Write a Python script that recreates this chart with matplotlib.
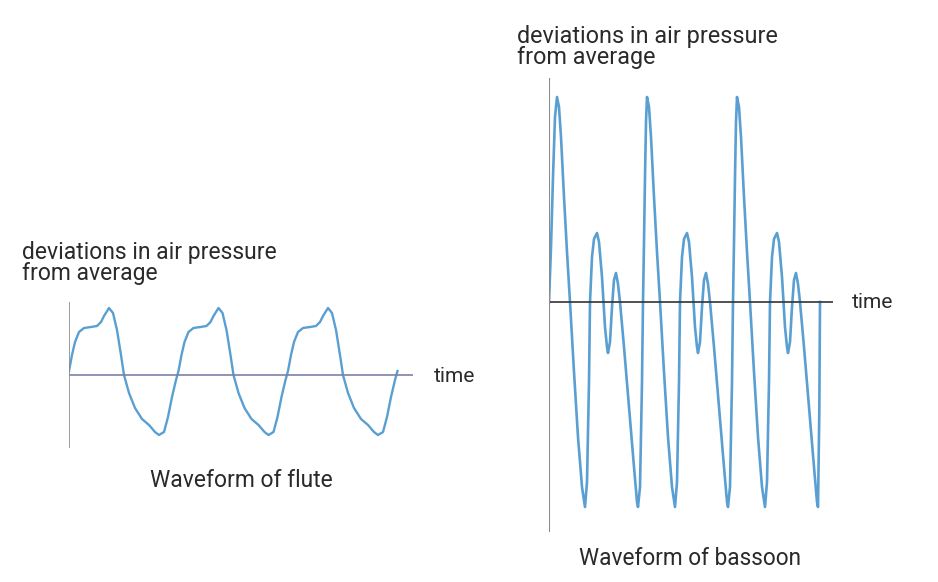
import numpy as np
import matplotlib
matplotlib.use("Agg")
import matplotlib.pyplot as plt

plt.rcParams['font.family'] = ['Roboto', 'DejaVu Sans']

# flute: one cycle (time offset, pressure deviation)
flute_period = 109.5
flute_t = [0, 3, 6, 10, 15, 22, 28, 32, 35, 40, 44, 48, 52, 55, 60, 66, 73, 80,
           86, 90, 95, 99, 103, 107]
flute_p = [4, 20, 33, 43, 47, 48, 49, 53, 59, 67, 62, 45, 20, 0, -18, -33, -44, -50,
           -57, -60, -57, -42, -22, -5]
flute_cycles = 3

# bassoon: start rise, one repeating cycle (from a big peak), end rise
bassoon_start_t = [0, 2, 4, 6]
bassoon_start_p = [0, 55, 125, 185]
bassoon_period = 90
bassoon_t = [8, 10, 12, 15, 18, 21, 25, 29, 33, 36, 38, 40, 41, 43, 45, 48, 50, 53,
             56, 58, 59, 61, 63, 65, 67, 69, 71, 75, 80, 85, 88, 89, 91, 93, 94,
             95, 96, 97]
bassoon_p = [205, 195, 165, 105, 50, 0, -70, -135, -185, -205, -180, -80, 0, 45, 63,
             69, 60, 25, -25, -45, -51, -40, -5, 22, 29, 18, 0, -45, -105, -165, -200,
             -205, -185, -80, 0, 60, 125, 180]
bassoon_cycles = 3
bassoon_end_t = [270.3, 271]
bassoon_end_p = [-110, 0]

line_color = '#5a9fd2'


def build(period, t, p, n):
    xs, ys = [], []
    for k in range(n):
        xs += [v + k * period for v in t]
        ys += p
    return xs, ys


fig = plt.figure(figsize=(9.38, 5.82), dpi=100)
W, H = 938, 582


def px_axes(x0, y0, x1, y1):
    return fig.add_axes([x0 / W, 1 - y1 / H, (x1 - x0) / W, (y1 - y0) / H])


# flute
ax1 = px_axes(69, 302, 413, 448)
fx, fy = build(flute_period, flute_t, flute_p, flute_cycles)
fx.append(flute_cycles * flute_period)
fy.append(flute_p[0])
ax1.plot(fx, fy, color=line_color, lw=1.7)
ax1.set_xlim(0, 413 - 69)
ax1.set_ylim(-73, 73)
ax1.axhline(0, color='#7f7fa6', lw=1.2)
ax1.axvline(0, color='#8a8a8a', lw=1.2)
ax1.axis('off')

# bassoon
ax2 = px_axes(549, 78, 833, 532)
bx, by = build(bassoon_period, bassoon_t, bassoon_p, bassoon_cycles)
# last cycle stops at its second trough
last = bassoon_t.index(89) + (bassoon_cycles - 1) * len(bassoon_t)
bx = bassoon_start_t + bx[:last + 1] + bassoon_end_t
by = bassoon_start_p + by[:last + 1] + bassoon_end_p
ax2.plot(bx, by, color=line_color, lw=1.9)
ax2.set_xlim(0, 833 - 549)
ax2.set_ylim(-230, 224)
ax2.axhline(0, color='#333333', lw=1.2)
ax2.axvline(0, color='#8a8a8a', lw=1.5)
ax2.axis('off')

txt = dict(color='#2a2a2a', va='top', ha='left')
fig.text(22 / W, 1 - 241 / H, 'deviations in air pressure\nfrom average',
         fontsize=16.5, linespacing=0.88, **txt)
fig.text(434 / W, 1 - 367 / H, 'time', fontsize=15, **txt)
fig.text(150 / W, 1 - 469 / H, 'Waveform of flute', fontsize=16.5, **txt)
fig.text(517 / W, 1 - 25 / H, 'deviations in air pressure\nfrom average',
         fontsize=16.8, linespacing=0.88, **txt)
fig.text(852 / W, 1 - 293 / H, 'time', fontsize=15, **txt)
fig.text(579 / W, 1 - 547 / H, 'Waveform of bassoon', fontsize=16.3, **txt)

fig.savefig('out.png', dpi=100, facecolor='white')
